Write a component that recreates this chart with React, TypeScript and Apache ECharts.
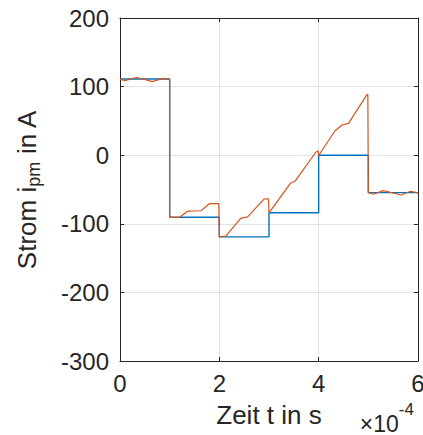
import React, { useEffect, useRef } from "react";
import * as echarts from "echarts";

// time in units of 1e-4 s
const refTime = [0, 1, 2, 3, 4, 5, 6];
const refCurrent = [111, -90.5, -119, -84, 0, -54.5, -54.5];

const measTime = [
  0, 0.1, 0.33, 0.5, 0.65, 0.86, 1.0,
  1.0, 1.2, 1.37, 1.63, 1.8, 1.99,
  2.0, 2.13, 2.43, 2.57, 2.9, 2.99,
  3.0, 3.43, 3.53, 3.95, 3.99,
  4.0, 4.33, 4.47, 4.6, 4.97, 4.99,
  5.0, 5.1, 5.3, 5.66, 5.85, 6.0,
];
const measCurrent = [
  111, 108.8, 113.3, 110.5, 107.2, 112, 110.5,
  -90.5, -90.5, -81.5, -81, -70.7, -70.7,
  -119, -118, -92, -90, -64, -63.5,
  -84, -41, -37.5, 5, 6,
  -0.5, 35.7, 44, 46.5, 88, 88.5,
  -54.7, -57, -51.7, -58, -52.6, -55,
];

const xTicks = [0, 6, 2]; // min, max, interval
const yTicks = [-300, 200, 100];

const FONT = "Liberation Sans, Arial, Helvetica, sans-serif";
const AX = "#262626";
const GRID = "#e3e3e3";

export default function App() {
  const ref = useRef<HTMLDivElement>(null);
  useEffect(() => {
    if (!ref.current) return;
    const chart = echarts.init(ref.current, undefined, { renderer: "svg" });
    const xBase = {
      type: "value" as const,
      min: xTicks[0],
      max: xTicks[1],
      interval: xTicks[2],
      axisLine: { show: true, onZero: false, lineStyle: { color: AX, width: 1 } },
      axisTick: { show: true, inside: true, length: 4, lineStyle: { color: AX } },
    };
    const yBase = {
      type: "value" as const,
      min: yTicks[0],
      max: yTicks[1],
      interval: yTicks[2],
      axisLine: { show: true, onZero: false, lineStyle: { color: AX, width: 1 } },
      axisTick: { show: true, inside: true, length: 4, lineStyle: { color: AX } },
    };
    chart.setOption({
      animation: false,
      backgroundColor: "#ffffff",
      textStyle: { fontFamily: FONT },
      grid: {
        left: 120,
        right: 5,
        top: 18,
        bottom: 74,
        containLabel: false,
        outerBoundsMode: "none",
      },
      xAxis: [
        {
          ...xBase,
          position: "bottom",
          name: "Zeit t in s",
          nameLocation: "middle",
          nameGap: 41,
          nameTextStyle: { fontSize: 26, color: AX, fontFamily: FONT },
          axisLabel: { fontSize: 24, color: AX, margin: 10, fontFamily: FONT },
          splitLine: { show: true, lineStyle: { color: GRID, width: 1 } },
        },
        {
          ...xBase,
          position: "top",
          axisLabel: { show: false },
          splitLine: { show: false },
        },
      ],
      yAxis: [
        {
          ...yBase,
          position: "left",
          name: "{a|Strom i}{s|pm}{a| in A}",
          nameLocation: "middle",
          nameGap: 77,
          nameRotate: 90,
          nameTextStyle: {
            color: AX,
            fontFamily: FONT,
            rich: {
              a: { fontSize: 26, color: AX, fontFamily: FONT, lineHeight: 32 },
              s: { fontSize: 18, color: AX, fontFamily: FONT, lineHeight: 18, verticalAlign: "bottom" },
            },
          },
          axisLabel: { fontSize: 24, color: AX, margin: 11, fontFamily: FONT },
          splitLine: { show: true, lineStyle: { color: GRID, width: 1 } },
        },
        {
          ...yBase,
          position: "right",
          axisLabel: { show: false },
          splitLine: { show: false },
        },
      ],
      graphic: [
        {
          type: "text",
          right: 9,
          bottom: 0,
          style: {
            text: "{b|×10}{p|-4}",
            fill: AX,
            rich: {
              b: { fontSize: 23, fill: AX, fontFamily: FONT, lineHeight: 34, verticalAlign: "bottom" },
              p: { fontSize: 17, fill: AX, fontFamily: FONT, lineHeight: 17, verticalAlign: "top" },
            },
          },
        },
      ],
      series: [
        {
          type: "line",
          data: refTime.map((t, i) => [t, refCurrent[i]]),
          step: "end",
          showSymbol: false,
          lineStyle: { color: "#0072BD", width: 1.4 },
          itemStyle: { color: "#0072BD" },
          z: 2,
        },
        {
          type: "line",
          data: measTime.map((t, i) => [t, measCurrent[i]]),
          showSymbol: false,
          lineStyle: { color: "#D95319", width: 1.2 },
          itemStyle: { color: "#D95319" },
          z: 3,
        },
      ],
    });
    return () => chart.dispose();
  }, []);
  return (
    <div
      ref={ref}
      style={{ position: "fixed", left: 0, top: 0, width: 423, height: 435 }}
    />
  );
}
